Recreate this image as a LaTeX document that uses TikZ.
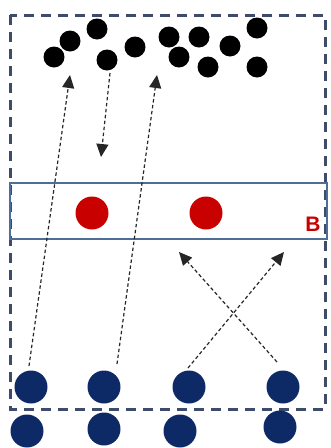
\documentclass[tikz,border=0pt]{standalone}
\usepackage{fontspec}
\setmainfont{Liberation Sans}
\usetikzlibrary{arrows.meta}
\definecolor{navy}{HTML}{0E2A66}
\definecolor{boxgray}{HTML}{3E4C6C}
\definecolor{bandblue}{HTML}{4E6E9A}
\definecolor{redc}{HTML}{C80000}
\tikzset{
  blackdot/.style={circle,fill=black,minimum size=21pt,inner sep=0pt},
  reddot/.style={circle,fill=redc,minimum size=33pt,inner sep=0pt},
  navydot/.style={circle,fill=navy,minimum size=33pt,inner sep=0pt},
  dasharrow/.style={draw=black!85,line width=1.2pt,dash pattern=on 3.5pt off 2.5pt,-{Triangle[length=13pt,width=12pt]}},
}
\begin{document}
\begin{tikzpicture}[x=1pt,y=-1pt]
\useasboundingbox (0,0) rectangle (331,448);
% outer dashed box
\draw[boxgray,line width=3pt,dash pattern=on 10pt off 7pt] (10,15) rectangle (325,409);
% band B
\draw[bandblue,line width=2pt] (10,183) rectangle (327,239);
\node[reddot] (r1) at (92,213) {};
\node[reddot] (r2) at (206,213) {};
\node[text=redc,font=\bfseries\fontsize{21}{21}\selectfont] (B) at (313,224) {B};
% black dots
\node[blackdot] (d1) at (54,57) {};
\node[blackdot] (d2) at (70,41) {};
\node[blackdot] (d3) at (97,29) {};
\node[blackdot] (d4) at (107,60) {};
\node[blackdot] (d5) at (135,47) {};
\node[blackdot] (d6) at (169,37) {};
\node[blackdot] (d7) at (179,57) {};
\node[blackdot] (d8) at (199,37) {};
\node[blackdot] (d9) at (208,67) {};
\node[blackdot] (d10) at (230,46) {};
\node[blackdot] (d11) at (257,28) {};
\node[blackdot] (d12) at (257,67) {};
% navy dots
\node[navydot] (n1) at (31,387) {};
\node[navydot] (n2) at (104,387) {};
\node[navydot] (n3) at (189,387) {};
\node[navydot] (n4) at (283,387) {};
\node[navydot] (m1) at (27,431) {};
\node[navydot] (m2) at (104,429) {};
\node[navydot] (m3) at (180,431) {};
\node[navydot] (m4) at (280,427) {};
% arrow endpoints
\coordinate (t1) at (70,75);
\coordinate (t2) at (157,75);
\coordinate (t3) at (101,157);
\coordinate (t4) at (284,252);
\coordinate (t5) at (179,252);
\coordinate (s1) at (29,366);
\coordinate (s2) at (117,364);
\coordinate (s3) at (110,73);
\coordinate (s4) at (188,368);
\coordinate (s5) at (277,362);
\draw[dasharrow] (s1) -- (t1);
\draw[dasharrow] (s2) -- (t2);
\draw[dasharrow] (s3) -- (t3);
\draw[dasharrow] (s4) -- (t4);
\draw[dasharrow] (s5) -- (t5);
\end{tikzpicture}
\end{document}
